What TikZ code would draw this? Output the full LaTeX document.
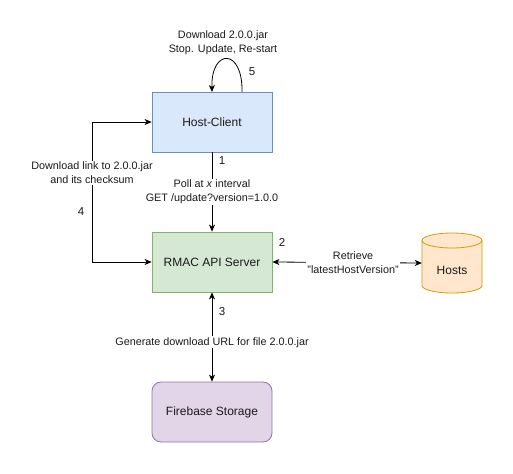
\documentclass[tikz,border=0pt]{standalone}
\usepackage{fontspec}
\setmainfont{Liberation Sans}
\usetikzlibrary{arrows.meta}
\definecolor{bluefill}{HTML}{DAE8FC}\definecolor{bluedraw}{HTML}{6C8EBF}
\definecolor{greenfill}{HTML}{D5E8D4}\definecolor{greendraw}{HTML}{82B366}
\definecolor{orangefill}{HTML}{FFE6CC}\definecolor{orangedraw}{HTML}{D79B00}
\definecolor{purplefill}{HTML}{E1D5E7}\definecolor{purpledraw}{HTML}{9673A6}
\definecolor{txt}{HTML}{1A1A1A}
\begin{document}
\begin{tikzpicture}[x=1pt,y=-1pt,
  every node/.style={font=\fontsize{11}{13}\selectfont, text=txt},
  box/.style={minimum width=120pt,minimum height=60pt,inner sep=0pt,line width=0.8pt,font=\fontsize{12}{14}\selectfont},
  conn/.style={line width=0.8pt,-{Stealth[length=7pt,width=6pt,inset=2pt]}},
  bconn/.style={line width=0.8pt,{Stealth[length=7pt,width=6pt,inset=2pt]}-{Stealth[length=7pt,width=6pt,inset=2pt]}},
  lbl/.style={fill=white,align=center,inner sep=1pt,font=\fontsize{10.8}{14}\selectfont},
  num/.style={font=\fontsize{11.5}{13}\selectfont}]
\useasboundingbox (0,0) rectangle (513,473);
\fill[white] (0,0) rectangle (513,473);
\node[box,draw=bluedraw,fill=bluefill] (hc) at (212,122) {Host-Client};
\node[box,draw=greendraw,fill=greenfill] (rmac) at (212,262) {RMAC API Server};
\node[box,draw=purpledraw,fill=purplefill,rounded corners=9pt] (fb) at (212,412) {Firebase Storage};
% cylinder
\draw[line width=0.8pt,draw=orangedraw,fill=orangefill] (422,240.5) -- (422,285.5) arc[start angle=180,end angle=0,x radius=30,y radius=7.5] -- (482,240.5) arc[start angle=0,end angle=-180,x radius=30,y radius=7.5] -- cycle;
\draw[line width=0.8pt,draw=orangedraw] (422,240.5) arc[start angle=180,end angle=0,x radius=30,y radius=7.5];
\node[minimum width=60pt,minimum height=60pt,inner sep=0pt] (hosts) at (452,263) {};
\node[font=\fontsize{12}{14}\selectfont] at (452,270) {Hosts};
% edge 1
\draw[conn] (hc.south) -- (rmac.north) node[pos=0.5,lbl] {Poll at \textit{x} interval\\GET /update?version=1.0.0};
\node[num] (n1) at (222,161) {1};
% edge 4
\coordinate (c4a) at (92,122);
\coordinate (c4b) at (92,262);
\draw[bconn] (hc.west) -- (c4a) -- (c4b) -- (rmac.west);
\node[lbl] (l4) at (92,173) {Download link to 2.0.0.jar\\and its checksum};
\node[num] (n4) at (81,212) {4};
% edge 2
\draw[bconn] (rmac.east) -- (hosts.west) node[pos=0.54,lbl] {Retrieve\\"latestHostVersion"};
\node[num] (n2) at (282,242) {2};
% edge 3
\draw[bconn] (rmac.south) -- (fb.north) node[pos=0.56,lbl] {Generate download URL for file 2.0.0.jar};
\node[num] (n3) at (222,312) {3};
% edge 5
\coordinate (s5) at (242,92);
\coordinate (e5) at (212,92);
\draw[conn] (s5) .. controls (243,48) and (211,48) .. (e5);
\node[num] (n5) at (252,72) {5};
\node[align=center,font=\fontsize{10.8}{14}\selectfont] (l5) at (223,43) {Download 2.0.0.jar\\Stop. Update, Re-start};
\end{tikzpicture}
\end{document}
